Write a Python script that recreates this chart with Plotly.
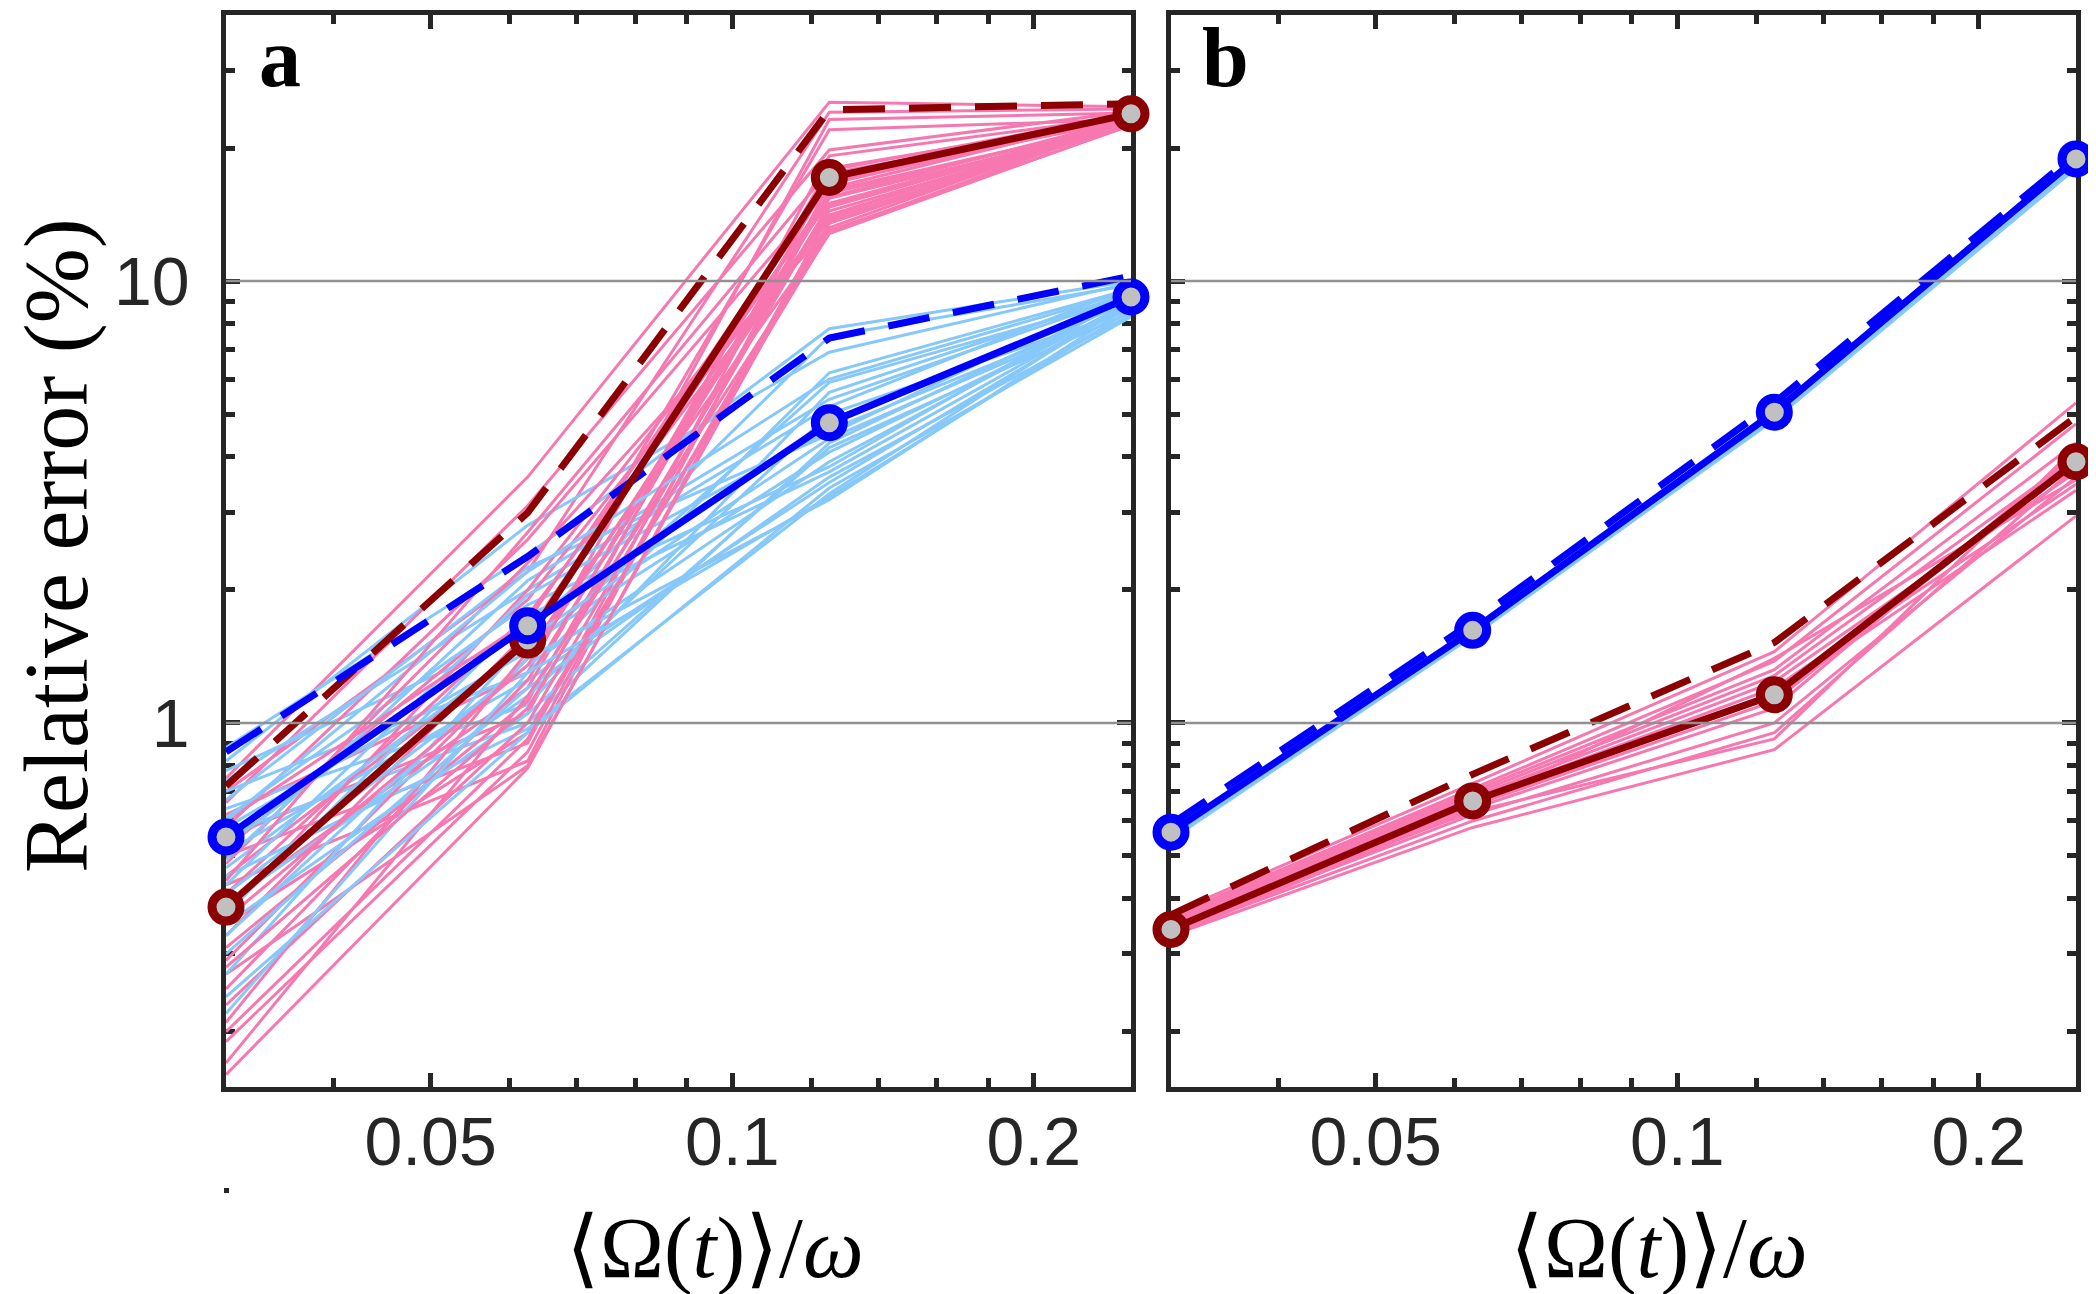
import numpy as np
import plotly.graph_objects as go
from plotly.subplots import make_subplots

# ── colours ────────────────────────────────────────────────────
PINK      = '#F778B0'
LIGHTBLUE = '#87C8FA'
DARKRED   = '#8B0000'
BLUE      = '#0000FF'
MARKER_BG = '#C0C0C0'
AXIS_CLR  = '#262626'
GRID_CLR  = '#919191'

# ── data ───────────────────────────────────────────────────────
X_POINTS = [1/32, 1/16, 1/8, 1/4]

# panel a: individual realisations (values at the four x points)
A_PINK = [
    [0.75, 3.60, 25.4, 24.8], [0.70, 2.20, 24.1, 24.5], [0.66, 3.10, 19.8, 24.2],
    [0.62, 1.30, 23.2, 24.0], [0.58, 2.60, 16.2, 23.8], [0.55, 1.05, 19.2, 23.6],
    [0.52, 1.90, 14.0, 23.5], [0.50, 0.90, 17.5, 23.4], [0.48, 2.30, 13.2, 23.3],
    [0.45, 1.50, 22.0, 23.2], [0.43, 0.82, 16.6, 23.6], [0.41, 1.75, 13.8, 23.0],
    [0.39, 1.20, 18.0, 23.4], [0.37, 2.00, 15.0, 22.9], [0.35, 0.95, 12.9, 23.1],
    [0.33, 1.60, 15.8, 22.8], [0.31, 1.12, 17.0, 23.2], [0.29, 1.40, 14.4, 22.7],
    [0.27, 0.80, 13.5, 23.0], [0.25, 1.25, 15.4, 22.6], [0.23, 1.00, 14.7, 22.9],
    [0.21, 1.45, 13.0, 22.5], [0.19, 0.86, 16.0, 22.8], [0.17, 1.15, 12.8, 22.6],
    [0.16, 0.79, 14.1, 23.0], [0.60, 1.70, 16.8, 23.7], [0.44, 2.70, 17.8, 23.9],
    [0.36, 1.35, 15.5, 23.3], [0.20, 0.92, 13.6, 22.7], [0.28, 1.08, 14.9, 23.1],
]
A_LIGHTBLUE = [
    [0.88, 2.40, 7.80, 10.0], [0.82, 2.80, 6.90, 9.9], [0.78, 1.60, 7.50, 9.8],
    [0.74, 2.00, 5.20, 9.7], [0.70, 1.30, 6.20, 9.6], [0.67, 2.25, 4.50, 9.5],
    [0.64, 1.10, 5.60, 9.4], [0.61, 1.85, 3.80, 9.3], [0.58, 1.45, 5.90, 9.2],
    [0.56, 1.00, 4.30, 9.1], [0.53, 1.70, 4.80, 9.0], [0.51, 1.25, 3.50, 8.9],
    [0.49, 2.10, 5.40, 9.3], [0.47, 1.50, 4.10, 8.8], [0.45, 0.97, 3.30, 9.1],
    [0.43, 1.95, 4.60, 8.7], [0.41, 1.35, 3.90, 9.0], [0.39, 1.15, 5.00, 8.6],
    [0.37, 1.75, 3.70, 8.9], [0.35, 1.05, 4.20, 8.5], [0.33, 1.40, 3.20, 8.8],
    [0.30, 1.20, 3.60, 8.4], [0.27, 1.55, 4.40, 8.7], [0.24, 0.95, 3.40, 8.3],
    [0.22, 1.30, 3.25, 8.6], [0.60, 2.20, 6.00, 9.5],
]
A_RED_SOLID   = [0.383, 1.54, 17.15, 23.9]
A_RED_DASHED  = [0.72, 2.99, 24.4, 25.2]
A_BLUE_SOLID  = [0.552, 1.66, 4.78, 9.2]
A_BLUE_DASHED = [0.86, 2.38, 7.43, 10.26]

# panel b
B_PINK = [
    [0.370, 0.73, 1.45, 5.30], [0.365, 0.71, 1.38, 4.75], [0.360, 0.70, 1.32, 4.30],
    [0.355, 0.69, 1.28, 4.00], [0.350, 0.68, 1.24, 3.70], [0.345, 0.67, 1.20, 3.47],
    [0.340, 0.66, 1.16, 3.36], [0.335, 0.65, 1.12, 3.90], [0.330, 0.64, 1.08, 4.10],
    [0.340, 0.62, 1.00, 3.60], [0.335, 0.60, 0.95, 3.80], [0.330, 0.58, 0.87, 2.94],
    [0.345, 0.65, 1.40, 3.55], [0.350, 0.63, 0.92, 4.20],
]
B_LIGHTBLUE = [
    [0.560, 1.60, 4.95, 18.3], [0.555, 1.59, 4.90, 18.1], [0.565, 1.62, 5.00, 18.6],
    [0.570, 1.63, 5.05, 18.8], [0.550, 1.58, 4.85, 18.0], [0.560, 1.61, 4.98, 18.5],
    [0.545, 1.57, 4.88, 18.2], [0.568, 1.64, 5.02, 18.7],
]
B_RED_SOLID   = [0.341, 0.666, 1.158, 3.90]
B_RED_DASHED  = [0.368, 0.765, 1.52, 4.93]
B_BLUE_SOLID  = [0.566, 1.62, 5.05, 18.9]
B_BLUE_DASHED = [0.59, 1.69, 5.30, 19.4]

X_RANGE       = [1/32, 1/4]
Y_RANGE       = [0.15, 40]
X_TICKS       = [0.05, 0.1, 0.2]
X_TICK_LABELS = ['0.05', '0.1', '0.2']
X_MINOR       = [0.04, 0.06, 0.07, 0.08, 0.09, 0.12, 0.14, 0.16, 0.18]
Y_TICKS       = [1, 10]
Y_TICK_LABELS = ['1', '10']
Y_MINOR       = [0.2, 0.3, 0.4, 0.5, 0.6, 0.7, 0.8, 0.9,
                 2, 3, 4, 5, 6, 7, 8, 9, 20, 30]
GRID_VALUES   = [1, 10]

W, H = 2096, 1294
EPS = 1e-6   # keeps the end markers inside the log range

fig = make_subplots(rows=1, cols=2, shared_yaxes=False)


def add_panel(col, pink, lblue, red_s, red_d, blue_s, blue_d):
    # thin realisations, interleaved
    n = max(len(pink), len(lblue))
    for i in range(n):
        if i < len(pink):
            fig.add_trace(go.Scatter(x=X_POINTS, y=pink[i], mode='lines',
                                     line=dict(color=PINK, width=3),
                                     showlegend=False, hoverinfo='skip'),
                          row=1, col=col)
        if i < len(lblue):
            fig.add_trace(go.Scatter(x=X_POINTS, y=lblue[i], mode='lines',
                                     line=dict(color=LIGHTBLUE, width=3),
                                     showlegend=False, hoverinfo='skip'),
                          row=1, col=col)
    # dashed bounds
    for ys, c in [(red_d, DARKRED), (blue_d, BLUE)]:
        fig.add_trace(go.Scatter(x=X_POINTS, y=ys, mode='lines',
                                 line=dict(color=c, width=7, dash='42px,24px'),
                                 showlegend=False), row=1, col=col)
    # solid means with markers
    for ys, c in [(red_s, DARKRED), (blue_s, BLUE)]:
        fig.add_trace(go.Scatter(x=X_POINTS, y=ys, mode='lines+markers',
                                 line=dict(color=c, width=7),
                                 marker=dict(size=28, color=MARKER_BG,
                                             line=dict(color=c, width=9)),
                                 cliponaxis=False, showlegend=False),
                      row=1, col=col)
    # grid lines drawn on top (MATLAB layer = top)
    for g in GRID_VALUES:
        fig.add_trace(go.Scatter(x=X_RANGE, y=[g, g], mode='lines',
                                 line=dict(color=GRID_CLR, width=2.5),
                                 showlegend=False, hoverinfo='skip'),
                      row=1, col=col)


add_panel(1, A_PINK, A_LIGHTBLUE, A_RED_SOLID, A_RED_DASHED,
          A_BLUE_SOLID, A_BLUE_DASHED)
add_panel(2, B_PINK, B_LIGHTBLUE, B_RED_SOLID, B_RED_DASHED,
          B_BLUE_SOLID, B_BLUE_DASHED)

tick_font = dict(family='Liberation Sans, Arial, sans-serif', size=68,
                 color=AXIS_CLR)

xcommon = dict(type='log',
               range=[np.log10(X_RANGE[0]) - EPS, np.log10(X_RANGE[1]) + EPS],
               tickvals=X_TICKS, ticktext=X_TICK_LABELS, tickfont=tick_font,
               ticks='inside', ticklen=14, tickwidth=4.5, tickcolor=AXIS_CLR,
               minor=dict(tickvals=X_MINOR, ticks='inside', ticklen=9,
                          tickwidth=4.5, tickcolor=AXIS_CLR, showgrid=False),
               showline=True, linewidth=4.5, linecolor=AXIS_CLR, mirror='ticks',
               showgrid=False, zeroline=False, layer='below traces',
               ticklabelstandoff=-8)
ycommon = dict(type='log', range=[np.log10(Y_RANGE[0]), np.log10(Y_RANGE[1])],
               tickvals=Y_TICKS, ticktext=Y_TICK_LABELS, tickfont=tick_font,
               ticks='inside', ticklen=14, tickwidth=4.5, tickcolor=AXIS_CLR,
               minor=dict(tickvals=Y_MINOR, ticks='inside', ticklen=9,
                          tickwidth=4.5, tickcolor=AXIS_CLR, showgrid=False),
               showline=True, linewidth=4.5, linecolor=AXIS_CLR, mirror='ticks',
               showgrid=False, zeroline=False, layer='below traces')

fig.update_layout(
    width=W, height=H,
    margin=dict(l=0, r=0, t=0, b=0),
    paper_bgcolor='white', plot_bgcolor='white',
    xaxis=dict(domain=[218 / W, 1123 / W], **xcommon),
    xaxis2=dict(domain=[1163 / W, 2068 / W], **xcommon),
    yaxis=dict(domain=[1 - 1079 / H, 1 - 7 / H], ticklabelstandoff=18, **ycommon),
    yaxis2=dict(domain=[1 - 1079 / H, 1 - 7 / H], showticklabels=False, **ycommon),
)

serif = 'Liberation Serif, Times New Roman, serif'
annos = [
    dict(text='Relative error (%)', x=49 / W, y=1 - 538 / H, textangle=-90,
         font=dict(family=serif, size=90, color='black')),
    dict(text='⟨Ω(<i>t</i>)⟩/<i>ω</i>', x=707 / W, y=1 - 1240 / H,
         font=dict(family=serif, size=86, color='black')),
    dict(text='⟨Ω(<i>t</i>)⟩/<i>ω</i>', x=1651 / W, y=1 - 1240 / H,
         font=dict(family=serif, size=86, color='black')),
    dict(text='<b>a</b>', x=272 / W, y=1 - 49 / H,
         font=dict(family=serif, size=84, color='black')),
    dict(text='<b>b</b>', x=1217 / W, y=1 - 49 / H,
         font=dict(family=serif, size=84, color='black')),
]
for a in annos:
    fig.add_annotation(xref='paper', yref='paper', showarrow=False,
                       xanchor='center', yanchor='middle', **a)

# stray dot below the left axis corner
fig.add_shape(type='rect', xref='paper', yref='paper',
              x0=216 / W, x1=221 / W, y0=1 - 1185 / H, y1=1 - 1180 / H,
              fillcolor=AXIS_CLR, line=dict(width=0))

fig.write_html('out.html')
